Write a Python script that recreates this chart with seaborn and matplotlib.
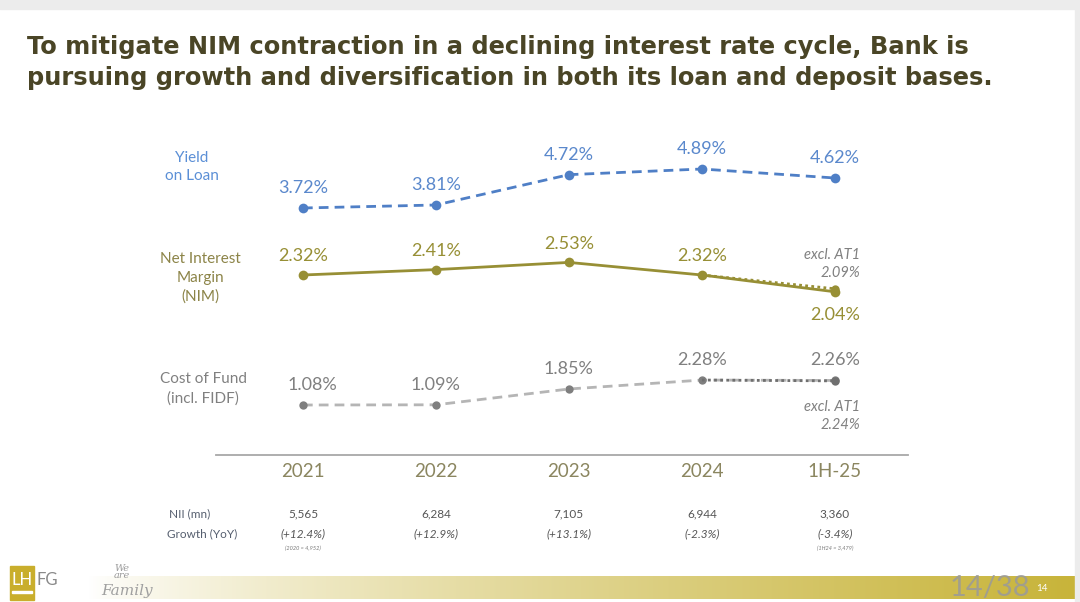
import numpy as np
import pandas as pd
import matplotlib.pyplot as plt
import matplotlib.transforms as mtransforms
from matplotlib.patches import Rectangle
import seaborn as sns

sns.set_style("white")
plt.rcParams['font.family'] = ['Lato', 'DejaVu Sans']

# data
periods = ["2021", "2022", "2023", "2024", "1H-25"]
yield_loan = [3.72, 3.81, 4.72, 4.89, 4.62]
nim = [2.32, 2.41, 2.53, 2.32, 2.04]
nim_excl_at1 = [2.32, 2.09]          # 2024 -> 1H-25
cof = [1.08, 1.09, 1.85, 2.28, 2.26]
cof_excl_at1 = [2.28, 2.24]          # 2024 -> 1H-25
nii = ["5,565", "6,284", "7,105", "6,944", "3,360"]
growth = ["(+12.4%)", "(+12.9%)", "(+13.1%)", "(-2.3%)", "(-3.4%)"]
notes = ["(2020 = 4,952)", "", "", "", "(1H24 = 3,479)"]

W, H = 1080, 602
BLUE = "#4f7fc6"
OLIVE = "#978f35"
GRAY_L = "#b5b5b5"
GRAY_D = "#7f7f7f"
TXT_GRAY = "#808080"

fig = plt.figure(figsize=(W / 100, H / 100), dpi=100)
fig.patch.set_facecolor("white")


def fx(px):
    return px / W


def fy(py):
    return 1 - py / H


def pax(top, bottom, left=216, right=908):
    return [fx(left), fy(bottom), fx(right) - fx(left), fy(top) - fy(bottom)]


# slide border
fig.patches.append(Rectangle((0, fy(9)), 1, 1 - fy(9), transform=fig.transFigure,
                             color="#ececec", zorder=0))
fig.patches.append(Rectangle((fx(1075), 0), 1 - fx(1075), 1, transform=fig.transFigure,
                             color="#ececec", zorder=0))

# title
for py, line in [(47, "To mitigate NIM contraction in a declining interest rate cycle, Bank is"),
                 (78, "pursuing growth and diversification in both its loan and deposit bases.")]:
    fig.text(fx(27), fy(py), line, fontsize=17.4, fontweight="bold", color="#4a4526",
             va="center", ha="left", family="DejaVu Sans")

x = np.arange(len(periods))
XLIM = (-0.654, 4.55)

# main axis with x labels
ax = fig.add_axes(pax(140, 455))
ax.set_xlim(XLIM)
ax.set_ylim(0, 1)
ax.patch.set_alpha(0)
for s in ["top", "right", "left"]:
    ax.spines[s].set_visible(False)
ax.spines["bottom"].set_color("#a8a8a8")
ax.spines["bottom"].set_linewidth(1.3)
ax.set_yticks([])
ax.set_xticks(x)
ax.set_xticklabels(periods, fontsize=13.5, color="#8b8660")
ax.tick_params(axis="x", length=0, pad=6)


def series_ax(top, bottom, ylim):
    a = fig.add_axes(pax(top, bottom))
    a.set_xlim(XLIM)
    a.set_ylim(ylim)
    a.axis("off")
    a.patch.set_alpha(0)
    return a


# Yield on loan
ax_y = series_ax(150, 220, (3.36, 5.46))
df_y = pd.DataFrame({"x": x, "v": yield_loan})
sns.lineplot(data=df_y, x="x", y="v", ax=ax_y, color=BLUE, lw=2, linestyle=(0, (3.5, 2.2)),
             marker="o", markersize=7, markeredgewidth=0)
for xi, v in zip(x, yield_loan):
    ax_y.annotate(f"{v:.2f}%", (xi, v), xytext=(0, 14.4), textcoords="offset points",
                  ha="center", va="center", fontsize=13, color="#5a88cc")

# NIM
ax_n = series_ax(250, 300, (1.903, 2.737))
df_n = pd.DataFrame({"x": x, "v": nim})
sns.lineplot(data=df_n, x="x", y="v", ax=ax_n, color=OLIVE, lw=2,
             marker="o", markersize=7, markeredgewidth=0)
sns.lineplot(x=x[3:], y=nim_excl_at1, ax=ax_n, color=OLIVE, lw=2, linestyle=(0, (1, 1.2)),
             marker="o", markersize=6, markeredgewidth=0, markevery=[1])
for xi, v in zip(x[:4], nim[:4]):
    ax_n.annotate(f"{v:.2f}%", (xi, v), xytext=(0, 13.5), textcoords="offset points",
                  ha="center", va="center", fontsize=13, color=OLIVE)
ax_n.annotate(f"{nim[4]:.2f}%", (x[4], nim[4]), xytext=(0, -16.5), textcoords="offset points",
              ha="center", va="center", fontsize=13, color=OLIVE)
ax_n.annotate(f"excl. AT1\n{nim_excl_at1[1]:.2f}%", (x[4], nim_excl_at1[1]), xytext=(18, 18),
              textcoords="offset points", ha="right", va="center", fontsize=10.5,
              color=TXT_GRAY, style="italic", linespacing=1.35)

# Cost of fund
ax_c = series_ax(370, 410, (0.84, 2.763))
df_c = pd.DataFrame({"x": x, "v": cof})
sns.lineplot(data=df_c, x="x", y="v", ax=ax_c, color=GRAY_L, lw=2, linestyle=(0, (3.5, 2.2)))
ax_c.plot(x, cof, "o", color=GRAY_D, markersize=6, markeredgewidth=0)
sns.lineplot(x=x[3:], y=cof_excl_at1, ax=ax_c, color="#6f6f6f", lw=2, linestyle=(0, (1, 1.2)),
             marker="o", markersize=6, markeredgewidth=0, markevery=[1])
for i, (xi, v) in enumerate(zip(x, cof)):
    dx = 7 if i == 0 else 0
    ax_c.annotate(f"{v:.2f}%", (xi, v), xytext=(dx, 14.4), textcoords="offset points",
                  ha="center", va="center", fontsize=13, color=TXT_GRAY)
ax_c.annotate(f"excl. AT1\n{cof_excl_at1[1]:.2f}%", (x[4], cof_excl_at1[1]), xytext=(18, -25),
              textcoords="offset points", ha="right", va="center", fontsize=10.5,
              color=TXT_GRAY, style="italic", linespacing=1.35)

# series labels
fig.text(fx(192), fy(167), "Yield\non Loan", ha="center", va="center", fontsize=11,
         color="#5b8fd6", linespacing=1.45)
fig.text(fx(200), fy(278), "Net Interest\nMargin\n(NIM)", ha="center", va="center",
         fontsize=11, color="#8c8448", linespacing=1.45)
fig.text(fx(203), fy(389), "Cost of Fund\n(incl. FIDF)", ha="center", va="center",
         fontsize=11, color=TXT_GRAY, linespacing=1.45)

# NII table
tr = mtransforms.blended_transform_factory(ax.transData, fig.transFigure)
fig.text(fx(190), fy(514), "NII (mn)", ha="center", va="center", fontsize=8.5, color="#555e6e")
fig.text(fx(202), fy(534), "Growth (YoY)", ha="center", va="center", fontsize=8.5, color="#555e6e")
for xi, a, g, n in zip(x, nii, growth, notes):
    ax.text(xi, fy(514), a, transform=tr, ha="center", va="center", fontsize=8.5, color="#555555")
    ax.text(xi, fy(534), g, transform=tr, ha="center", va="center", fontsize=8.5,
            color="#555555", style="italic")
    if n:
        ax.text(xi, fy(548), n, transform=tr, ha="center", va="center", fontsize=4,
                color="#777777", style="italic")

# bottom gradient band
band = fig.add_axes([fx(88), fy(599), fx(1075) - fx(88), fy(576) - fy(599)])
band.axis("off")
c0 = np.array([1.0, 1.0, 1.0])
c1 = np.array([0xc8, 0xb4, 0x3a]) / 255
t = np.linspace(0, 1, 400) ** 0.8
grad = (c0[None, :] * (1 - t[:, None]) + c1[None, :] * t[:, None])[None, :, :]
band.imshow(grad, aspect="auto", extent=(0, 1, 0, 1))
fig.text(fx(1030), fy(596), "14/38", ha="right", va="baseline", fontsize=21,
         color="#9a9a9a", alpha=0.85)
fig.text(fx(1036), fy(591), "14", ha="left", va="baseline", fontsize=7, color="white")

# logo
fig.patches.append(Rectangle((fx(10), fy(600)), fx(24), fy(566) - fy(600),
                             transform=fig.transFigure, color="#c9ae2c", zorder=2))
fig.text(fx(22), fy(580), "LH", ha="center", va="center", fontsize=12, color="white", zorder=3)
fig.patches.append(Rectangle((fx(12), fy(593)), fx(20), fy(591) - fy(593),
                             transform=fig.transFigure, color="white", zorder=3))
fig.text(fx(36), fy(580), "FG", ha="left", va="center", fontsize=12, color="#8a8a8a")
fig.text(fx(122), fy(572), "We\nare", ha="center", va="center", fontsize=7,
         color="#9a9a9a", family="DejaVu Serif", style="italic", linespacing=0.8)
fig.text(fx(127), fy(591), "Family", ha="center", va="center", fontsize=11,
         color="#a0a0a0", family="DejaVu Serif", style="italic")

fig.savefig("out.png", dpi=100, facecolor="white")
